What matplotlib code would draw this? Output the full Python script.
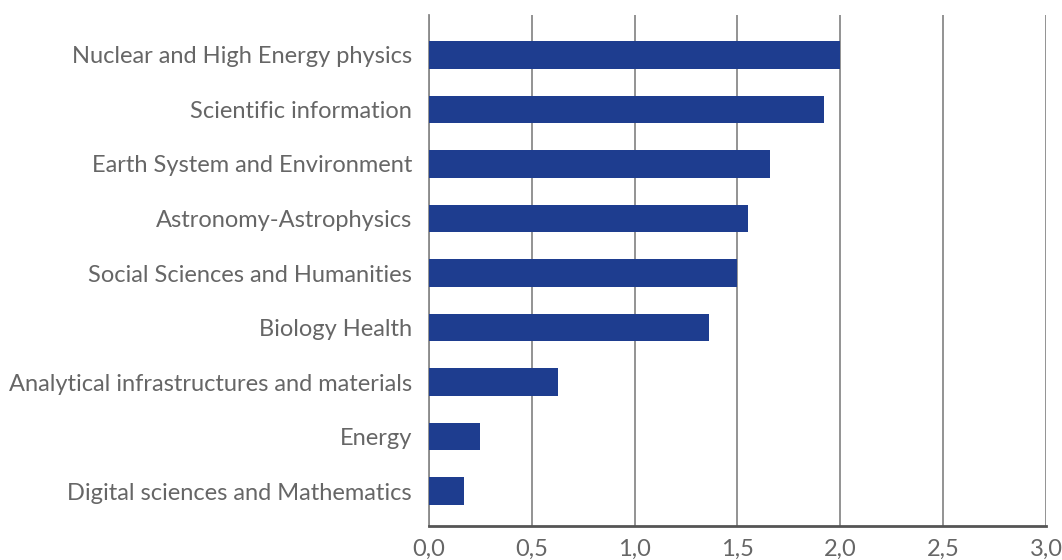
import matplotlib
matplotlib.use("Agg")
import matplotlib.pyplot as plt

categories = [
    "Nuclear and High Energy physics",
    "Scientific information",
    "Earth System and Environment",
    "Astronomy-Astrophysics",
    "Social Sciences and Humanities",
    "Biology Health",
    "Analytical infrastructures and materials",
    "Energy",
    "Digital sciences and Mathematics",
]
values = [2.0, 1.92, 1.66, 1.55, 1.50, 1.36, 0.63, 0.25, 0.17]
xticks = [0.0, 0.5, 1.0, 1.5, 2.0, 2.5, 3.0]
xtick_labels = ["0,0", "0,5", "1,0", "1,5", "2,0", "2,5", "3,0"]

plt.rcParams['font.family'] = ['Lato', 'DejaVu Sans']

fig = plt.figure(figsize=(10.62, 5.6), dpi=100)
ax = fig.add_axes([0.4037, 0.0607, 0.5813, 0.9123])

ypos = list(range(len(categories)))
ax.barh(ypos, values, height=0.5, color="#1E3D8F", zorder=3)
ax.set_ylim(len(categories) - 1 + 0.64, -0.73)
ax.set_xlim(0, 3.0)
ax.set_yticks(ypos)
ax.set_yticklabels(categories, fontsize=17, color="#666666")
ax.set_xticks(xticks)
ax.set_xticklabels(xtick_labels, fontsize=17, color="#666666")
ax.tick_params(axis="both", length=0)
ax.tick_params(axis="y", pad=12)
ax.tick_params(axis="x", pad=9)

ax.grid(axis="x", color="#8a8a8a", linewidth=1.3, zorder=0)
ax.grid(axis="y", visible=False)
for s in ["top", "right"]:
    ax.spines[s].set_visible(False)
ax.spines["left"].set_color("#8a8a8a")
ax.spines["left"].set_linewidth(1.3)
ax.spines["bottom"].set_color("#555555")
ax.spines["bottom"].set_linewidth(2)

fig.savefig("out.png", dpi=100)
